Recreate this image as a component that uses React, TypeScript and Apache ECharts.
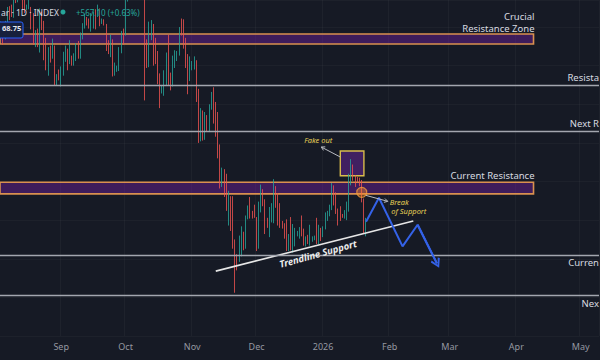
import React, { useEffect, useRef } from 'react';
import * as echarts from 'echarts';

// ---------- axis categories ----------
const START_DAY = '2025-08-04';
const DAY_COUNT = 279;
const tickDays = ['2025-09-01', '2025-10-01', '2025-11-01', '2025-12-01', '2026-01-01', '2026-02-01', '2026-03-01', '2026-04-01', '2026-05-01'];
const tickLabels = ['Sep', 'Oct', 'Nov', 'Dec', '2026', 'Feb', 'Mar', 'Apr', 'May'];

// ---------- daily candles (price in thousands USD), open = previous close ----------
const firstOpen = 114.2;
const closes = [
  115.0, 114.1, 115.0, 117.5, 116.7, 116.5, 119.3, 118.7, 120.2, 123.3,
  118.3, 117.4, 117.5, 117.5, 116.3, 112.9, 114.3, 112.5, 116.9, 115.4,
  113.5, 110.1, 111.8, 111.3, 112.6, 108.4, 108.8, 108.2, 109.2, 111.3,
  111.7, 110.7, 110.7, 110.2, 111.2, 112.1, 111.5, 113.9, 115.5, 116.1,
  115.9, 115.3, 115.4, 116.8, 116.5, 117.1, 115.7, 115.7, 115.3, 112.7,
  112.0, 113.3, 109.0, 109.7, 109.7, 112.1, 114.4, 114.0, 118.6, 120.6,
  122.3, 122.4, 123.5, 124.7, 121.4, 123.3, 121.7, 113.2, 110.6, 115.2,
  115.3, 113.1, 110.8, 108.2, 106.5, 107.2, 108.6, 110.6, 108.4, 107.6,
  110.1, 111.0, 111.6, 114.5, 114.1, 112.9, 110.0, 108.3, 109.6, 110.1,
  110.6, 106.5, 101.5, 103.9, 101.3, 103.3, 102.3, 104.7, 105.9, 103.0,
  101.6, 99.7, 94.5, 95.5, 94.2, 92.2, 92.9, 91.5, 86.6, 85.1,
  84.7, 86.8, 88.3, 87.3, 90.5, 91.3, 90.9, 90.8, 90.4, 86.7,
  91.3, 93.5, 92.1, 89.4, 89.3, 90.4, 90.6, 92.7, 92.0, 91.0,
  89.4, 89.2, 88.2, 86.4, 87.8, 86.2, 86.6, 88.1, 88.3, 88.6,
  88.5, 87.4, 87.6, 87.2, 87.3, 87.8, 87.8, 87.1, 88.4, 88.0,
  89.0, 90.3, 90.8, 91.6, 93.9, 93.5, 91.3, 91.0, 90.5, 90.4,
  90.8, 91.2, 95.3, 96.9, 95.6, 95.5, 95.1, 95.0, 92.6, 88.5,
  89.9,
];
const highs = [
  115.7, 115.1, 115.8, 117.6, 117.7, 117.9, 119.3, 122.3, 120.3, 123.7,
  124.5, 119.2, 117.9, 118.6, 117.6, 116.8, 114.6, 114.8, 117.4, 117.0,
  115.8, 113.6, 112.4, 112.6, 113.5, 112.6, 108.9, 109.5, 109.9, 111.8,
  112.6, 112.2, 113.3, 111.3, 111.6, 112.9, 113.2, 114.3, 115.5, 116.7,
  116.3, 116.1, 116.8, 117.0, 117.3, 117.9, 117.4, 116.1, 116.0, 115.4,
  113.3, 114.0, 113.4, 110.4, 110.0, 112.4, 114.5, 114.8, 118.6, 121.0,
  123.9, 122.8, 125.5, 126.2, 125.0, 124.1, 123.7, 122.5, 113.4, 115.7,
  115.9, 115.4, 113.6, 111.9, 109.0, 107.5, 109.4, 111.7, 114.0, 109.1,
  111.3, 112.0, 111.9, 115.0, 116.1, 116.0, 113.6, 111.5, 111.2, 110.6,
  111.2, 110.7, 107.0, 104.5, 104.2, 104.0, 103.6, 105.0, 106.6, 107.2,
  105.3, 104.0, 99.8, 96.8, 96.6, 96.0, 93.8, 93.1, 93.1, 87.5,
  85.6, 88.0, 89.2, 88.5, 90.6, 91.9, 93.0, 91.2, 92.0, 90.4,
  92.4, 94.6, 94.0, 92.7, 90.3, 91.7, 92.2, 95.3, 94.4, 93.5,
  92.2, 89.9, 89.6, 90.1, 88.2, 90.4, 89.5, 89.0, 88.6, 89.1,
  90.6, 88.9, 87.9, 88.1, 89.4, 87.9, 88.0, 90.3, 89.4, 89.0,
  89.2, 91.0, 91.2, 92.0, 94.8, 94.5, 93.6, 91.5, 91.8, 90.8,
  91.3, 92.4, 96.0, 97.9, 97.2, 95.8, 95.6, 95.5, 95.2, 92.8,
  90.3,
];
const lows = [
  114.0, 112.7, 113.4, 114.3, 115.9, 116.3, 116.2, 118.1, 118.2, 118.9,
  117.2, 116.8, 117.2, 117.3, 114.7, 112.7, 112.4, 112.4, 111.7, 114.6,
  110.7, 109.4, 108.7, 110.4, 110.9, 107.5, 107.4, 108.1, 107.3, 108.7,
  110.5, 109.4, 110.2, 110.0, 110.0, 110.6, 110.9, 110.9, 113.4, 114.8,
  115.2, 114.8, 114.4, 114.8, 114.7, 116.3, 115.1, 115.4, 115.2, 111.9,
  111.5, 111.1, 108.6, 108.7, 109.2, 109.3, 111.6, 112.7, 113.9, 118.3,
  119.3, 121.0, 122.0, 123.1, 120.6, 121.1, 119.6, 105.5, 109.7, 109.8,
  113.3, 110.0, 110.2, 107.6, 104.5, 106.4, 106.1, 107.5, 107.5, 106.8,
  107.3, 109.7, 110.6, 111.3, 113.9, 112.2, 109.7, 106.3, 108.0, 109.4,
  109.5, 105.3, 100.0, 100.2, 100.3, 100.4, 101.5, 101.4, 104.3, 102.5,
  100.8, 98.0, 94.1, 94.3, 93.0, 91.2, 89.3, 88.6, 86.3, 80.6,
  83.5, 84.6, 85.3, 86.1, 86.3, 90.1, 90.2, 90.2, 90.3, 86.0,
  86.3, 91.0, 91.8, 88.2, 89.0, 87.8, 89.7, 89.6, 91.6, 89.3,
  89.0, 88.9, 87.6, 86.0, 86.0, 86.1, 85.8, 86.6, 87.9, 87.6,
  87.9, 86.7, 86.6, 86.9, 86.7, 87.2, 87.4, 86.9, 86.9, 87.3,
  87.8, 88.8, 89.9, 90.5, 91.3, 91.9, 90.8, 89.3, 89.9, 90.3,
  90.2, 90.0, 91.1, 94.5, 95.1, 94.3, 94.9, 94.4, 92.3, 88.3,
  87.9,
];

// ---------- drawn levels & annotations (data space) ----------
const crucialZone = [112.8, 114.1];
const currentResistanceZone = [93.4, 94.9];
const zoneEndDay = '2026-04-09';
const resistance = 107.4;
const nextResistance = 101.5;
const currentSupport = 85.5;
const nextSupport = 80.3;
const fakeOutDays = ['2026-01-09', '2026-01-20'];
const fakeOutRange = [95.75, 98.95];
const breakPoint: [string, number] = ['2026-01-19', 93.6];
const trendline: [string, number][] = [['2025-11-12', 83.4], ['2026-02-12', 89.9]];
const projection: [string, number][] = [
  ['2026-01-21', 89.8], ['2026-01-27', 92.9], ['2026-02-07', 86.6], ['2026-02-14', 89.4], ['2026-02-23', 84.4],
];

const BG = '#161a25';
const UP = '#26a69a';
const DOWN = '#ef5350';
const TXT = '#d8dae0';
const YEL = '#e6cf55';
const FONT = '"Noto Sans", "Open Sans", sans-serif';

function buildDays(start: string, count: number): string[] {
  const t0 = new Date(start + 'T00:00:00Z').getTime();
  const out: string[] = [];
  for (let i = 0; i < count; i++) out.push(new Date(t0 + i * 86400000).toISOString().slice(0, 10));
  return out;
}

function arrowHead(tip: number[], from: number[], size: number): number[][] {
  const dx = tip[0] - from[0];
  const dy = tip[1] - from[1];
  const len = Math.hypot(dx, dy) || 1;
  const ux = dx / len;
  const uy = dy / len;
  const a = Math.PI / 6;
  const c = Math.cos(a);
  const s = Math.sin(a);
  return [
    [tip[0] - size * (ux * c - uy * s), tip[1] - size * (uy * c + ux * s)],
    tip,
    [tip[0] - size * (ux * c + uy * s), tip[1] - size * (uy * c - ux * s)],
  ];
}

export default function App() {
  const ref = useRef<HTMLDivElement>(null);

  useEffect(() => {
    document.body.style.margin = '0';
    const el = ref.current!;
    const chart = echarts.init(el, null, { renderer: 'svg', width: 600, height: 360 });
    const days = buildDays(START_DAY, DAY_COUNT);
    const candles = closes.map((c, i) => [i === 0 ? firstOpen : closes[i - 1], c, lows[i], highs[i]]);
    const isTick = (_i: number, v: string) => tickDays.indexOf(v) >= 0;

    const bandStyle = { color: 'rgba(118, 32, 168, 0.42)', borderColor: '#d9904f', borderWidth: 1.6 };
    const boxStyle = { color: 'rgba(118, 40, 170, 0.45)', borderColor: '#d8bb4c', borderWidth: 1.4 };
    const chevron = 'path://M5,0 L10,8 L8.4,9.4 L5,3.2 L1.6,9.4 L0,8 Z';

    chart.setOption({
      animation: false,
      backgroundColor: BG,
      textStyle: { fontFamily: FONT },
      grid: { left: -1, right: 1, top: 0, bottom: 24 },
      xAxis: {
        type: 'category',
        data: days,
        boundaryGap: true,
        axisLine: { show: false },
        axisTick: { show: false },
        axisLabel: {
          interval: isTick,
          formatter: (v: string) => {
            const k = tickDays.indexOf(v);
            return k >= 0 ? tickLabels[k] : '';
          },
          color: '#9598a1',
          fontSize: 9,
          margin: 6,
          fontFamily: FONT,
        },
        splitLine: { show: true, interval: isTick, lineStyle: { color: 'rgba(255,255,255,0.035)', width: 1 } },
      },
      yAxis: {
        type: 'value',
        min: 75,
        max: 118.5,
        interval: 5,
        axisLabel: { show: false },
        axisLine: { show: false },
        axisTick: { show: false },
        splitLine: { show: true, lineStyle: { color: 'rgba(255,255,255,0.03)', width: 1 } },
      },
      series: [
        {
          type: 'candlestick',
          data: candles,
          barWidth: 1.3,
          itemStyle: { color: UP, color0: DOWN, borderColor: UP, borderColor0: DOWN, borderWidth: 0.8 },
          markLine: {
            silent: true,
            symbol: ['none', 'none'],
            label: { show: false },
            lineStyle: { color: '#a3a6af', width: 1.4, type: 'solid' },
            data: [
              { yAxis: resistance },
              { yAxis: nextResistance },
              { yAxis: currentSupport },
              { yAxis: nextSupport },
            ],
          },
          markArea: {
            silent: true,
            label: { show: false },
            data: [
              [{ yAxis: crucialZone[1], itemStyle: bandStyle }, { xAxis: zoneEndDay, yAxis: crucialZone[0] }],
              [{ yAxis: currentResistanceZone[1], itemStyle: bandStyle }, { xAxis: zoneEndDay, yAxis: currentResistanceZone[0] }],
              [
                { xAxis: fakeOutDays[0], yAxis: fakeOutRange[1], itemStyle: boxStyle },
                { xAxis: fakeOutDays[1], yAxis: fakeOutRange[0] },
              ],
            ],
          },
        },
        {
          type: 'line',
          data: trendline,
          showSymbol: false,
          symbol: 'none',
          z: 4,
          lineStyle: { color: '#e6e6e6', width: 1.6 },
        },
        {
          type: 'line',
          data: projection,
          showSymbol: false,
          symbol: 'none',
          z: 4,
          lineStyle: { color: '#3462e8', width: 2 },
          markLine: {
            silent: true,
            symbol: ['none', chevron],
            symbolSize: 10,
            label: { show: false },
            lineStyle: { color: '#3462e8', width: 2, type: 'solid' },
            itemStyle: { color: '#3462e8' },
            data: [[{ coord: projection[3] }, { coord: projection[4] }]],
          },
        },
        {
          type: 'scatter',
          data: [breakPoint],
          symbolSize: 10,
          z: 5,
          itemStyle: { color: 'rgba(255, 145, 40, 0.5)', borderColor: '#f39a3c', borderWidth: 1.2 },
        },
      ],
    });

    const px = (d: string, v: number) => chart.convertToPixel({ gridIndex: 0 }, [d, v]) as number[];
    const lineY = (v: number) => px(days[0], v)[1];
    const zoneEndX = px(zoneEndDay, crucialZone[0])[0] + 1;

    const txt = (text: string, x: number, y: number, o: any = {}) => ({
      type: 'text',
      x,
      y,
      rotation: o.rotation || 0,
      z: 100,
      style: {
        text,
        fill: o.fill || TXT,
        fontSize: o.fontSize || 9.5,
        fontFamily: FONT,
        fontStyle: o.fontStyle || 'normal',
        fontWeight: o.fontWeight || 'normal',
        align: o.align || 'left',
        verticalAlign: 'middle',
      },
    });

    const boxTL = px(fakeOutDays[0], fakeOutRange[1]);
    const fakeTip = [boxTL[0] - 19, boxTL[1] - 4];
    const fakeFrom = [boxTL[0], boxTL[1] + 6];

    const c = px(breakPoint[0], breakPoint[1]);
    const brFrom = [c[0] + 4, c[1] + 3];
    const brTip = [c[0] + 26, c[1] + 9];

    const t1 = px(trendline[0][0], trendline[0][1]);
    const t2 = px(trendline[1][0], trendline[1][1]);
    const ang = Math.atan2(t1[1] - t2[1], t2[0] - t1[0]);
    const tx = 316;
    const ty = t1[1] + ((t2[1] - t1[1]) * (tx - t1[0])) / (t2[0] - t1[0]);
    const off = 8.5;

    const elements: any[] = [
      txt('Crucial', zoneEndX, lineY(crucialZone[1]) - 17, { align: 'right' }),
      txt('Resistance Zone', zoneEndX, lineY(crucialZone[1]) - 5.5, { align: 'right' }),
      txt('Current Resistance', zoneEndX, lineY(currentResistanceZone[1]) - 7, { align: 'right' }),
      txt('Resista', 599, lineY(resistance) - 8, { align: 'right' }),
      txt('Next R', 599, lineY(nextResistance) - 8, { align: 'right' }),
      txt('Curren', 599, lineY(currentSupport) + 8, { align: 'right' }),
      txt('Nex', 599, lineY(nextSupport) + 8, { align: 'right' }),
      txt('Fake out', boxTL[0] - 22, boxTL[1] - 11, { fill: YEL, fontSize: 7.5, fontStyle: 'italic', align: 'center' }),
      { type: 'line', z: 100, shape: { x1: fakeFrom[0], y1: fakeFrom[1], x2: fakeTip[0], y2: fakeTip[1] }, style: { stroke: '#b8bac0', lineWidth: 1 } },
      { type: 'polyline', z: 100, shape: { points: arrowHead(fakeTip, fakeFrom, 4) }, style: { stroke: '#b8bac0', lineWidth: 1, fill: null } },
      { type: 'line', z: 100, shape: { x1: brFrom[0], y1: brFrom[1], x2: brTip[0], y2: brTip[1] }, style: { stroke: '#b8bac0', lineWidth: 1 } },
      { type: 'polyline', z: 100, shape: { points: arrowHead(brTip, brFrom, 4) }, style: { stroke: '#b8bac0', lineWidth: 1, fill: null } },
      txt('Break', c[0] + 28, c[1] + 9.5, { fill: YEL, fontSize: 7.5, fontStyle: 'italic' }),
      txt('of Support', c[0] + 29.5, c[1] + 19, { fill: YEL, fontSize: 7.5, fontStyle: 'italic' }),
      txt('Trendline Support', tx + off * Math.sin(ang), ty + off * Math.cos(ang), {
        fontSize: 9.5, fontStyle: 'italic', fontWeight: 'bold', align: 'center', rotation: ang + 0.02, fill: '#ececec',
      }),
      txt('ar · 1D · INDEX', 1, 12, { align: 'left', fontSize: 8.5 }),
      { type: 'circle', z: 100, shape: { cx: 63, cy: 12, r: 2.5 }, style: { fill: UP } },
      txt('+567.10 (+0.63%)', 76, 12, { fill: UP, fontSize: 8 }),
      { type: 'rect', z: 100, shape: { x: -2, y: 22, width: 25, height: 16, r: 2 }, style: { fill: '#17203d', stroke: '#2962ff', lineWidth: 1 } },
      txt('68.75', 2, 27.5, { fontSize: 7.5, fontWeight: 'bold', fill: '#e6e8ee' }),
    ];

    chart.setOption({ graphic: { elements } });

    return () => chart.dispose();
  }, []);

  return <div ref={ref} style={{ position: 'absolute', left: 0, top: 0, width: 600, height: 360 }} />;
}
